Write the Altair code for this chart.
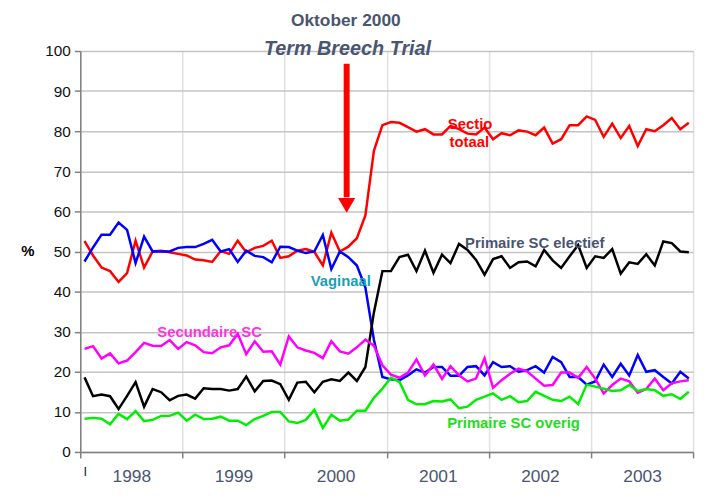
import altair as alt
import pandas as pd

years = ["1998", "1999", "2000", "2001", "2002", "2003"]
series_names = ["Sectio totaal", "Vaginaal", "Primaire SC electief", "Secundaire SC", "Primaire SC overig"]
series_colors = ["#ff0000", "#0000ff", "#000000", "#ff00ff", "#00ee00"]

sectio = [52.6, 49, 46, 45.1, 42.4, 44.6, 52.7, 46, 50, 50.2, 49.8, 49.4,
          49, 48, 47.8, 47.4, 50.1, 49.4, 52.7, 49.8, 50.9, 51.4, 52.7, 48.4,
          48.8, 50.2, 50.6, 49.9, 46.5, 54.7, 50, 51.2, 53.3, 59, 75.1, 81.5,
          82.3, 82.1, 81, 79.9, 80.5, 79.2, 79.2, 81.3, 80.5, 79.4, 79.2, 80.9,
          78, 79.5, 79, 80.2, 79.9, 79, 80.9, 76.9, 78, 81.5, 81.5, 83.7,
          82.8, 78.6, 81.9, 78.3, 81.3, 76.3, 80.5, 80, 81.5, 83.3, 80.5, 82.1]
vaginaal = [47.5, 51, 54.2, 54.2, 57.2, 55.4, 47.1, 53.7, 50, 50, 50, 50.9,
            51.1, 51.1, 51.9, 52.9, 50, 50.6, 47.4, 50.2, 48.9, 48.6, 47.3, 51.2,
            51.1, 50.2, 49.6, 50, 54.1, 45.6, 50, 48.6, 46.5, 41, 28, 18.7,
            18.1, 17.9, 19.1, 20.6, 19.8, 21.2, 21.2, 19, 19, 21.2, 21.4, 19.1,
            22.4, 21.2, 21.4, 20, 20.4, 21.4, 19.8, 23.7, 22.4, 18.7, 18.7, 16.8,
            17.6, 21.8, 18.7, 22, 19.1, 24.2, 20, 20.4, 18.7, 17.1, 20, 18.3]
electief = [18.6, 13.9, 14.3, 13.9, 10.7, 14.0, 17.4, 11.3, 15.7, 14.9, 12.9, 14.0,
            14.3, 13.3, 15.9, 15.7, 15.7, 15.3, 15.7, 18.8, 15.1, 17.7, 17.8, 16.9,
            13.0, 17.3, 17.5, 14.9, 17.5, 18.1, 17.7, 19.8, 17.7, 21.2, 34.8, 45.1,
            45.1, 48.6, 49.2, 45.1, 50.2, 44.7, 49.2, 47.1, 51.9, 50.4, 47.9, 44.2,
            48.1, 48.8, 45.9, 47.3, 47.5, 46.3, 50.4, 47.8, 45.9, 48.8, 51.6, 45.9,
            48.8, 48.4, 50.6, 44.5, 47.3, 46.9, 49.3, 46.5, 52.5, 52.1, 50, 49.8]
secundair = [25.7, 26.4, 23.3, 24.6, 22.1, 22.8, 24.9, 27.2, 26.5, 26.4, 27.9, 25.7,
             27.4, 26.6, 24.9, 24.6, 26.1, 26.6, 29.5, 24.4, 27.6, 25, 25.1, 21.8,
             28.8, 26.1, 25.3, 24.7, 23.4, 27.6, 25.1, 24.5, 26.1, 28, 26.5, 21.6,
             19.3, 18.5, 19.8, 23.1, 19.1, 21.8, 18.2, 21.4, 19.1, 17.6, 18.3, 23.4,
             16, 17.9, 19.5, 20.8, 20.1, 18.3, 16.5, 16.7, 19.8, 19.8, 18.5, 21.2,
             18.3, 14.6, 16.7, 18.3, 17.6, 14.8, 15.7, 18.3, 15.4, 17.1, 17.6, 17.9]
overig = [8.3, 8.5, 8.3, 6.9, 9.5, 8.2, 10.2, 7.7, 8.0, 9.0, 9.0, 9.8,
          7.8, 9.3, 8.2, 8.3, 8.8, 7.8, 7.8, 6.7, 8.2, 9.0, 10, 10,
          7.6, 7.2, 8, 10.5, 6.0, 9.3, 7.8, 8.1, 10.3, 10.3, 13.5, 15.8,
          18.5, 17.5, 13, 11.9, 11.9, 12.7, 12.6, 13.1, 10.9, 11.3, 13, 13.8,
          14.6, 13, 13.9, 12.4, 12.7, 15, 14, 13, 12.7, 13.8, 11.9, 16.8,
          16.3, 15.8, 15.2, 15.4, 16.7, 15.2, 15.7, 15.4, 14, 14.4, 13.2, 15]

# annotation labels (text, x in months, y in %)
ann_text = ["Sectio", "totaal", "Primaire SC electief", "Vaginaal", "Secundaire SC", "Primaire SC overig"]
ann_x = [45.8, 45.7, 53.4, 30.6, 15.2, 50.9]
ann_y = [81.7, 77.3, 52.1, 42.7, 29.9, 7.2]
ann_color = ["#ff0000", "#ff0000", "#4a5571", "#1aa0b4", "#ff33dd", "#22dd22"]

arrow_x = 31.3
arrow_top = 96.8
arrow_bottom = 63.5
arrow_head = 61.5

W, H = 619, 405

rows = []
for name, vals in zip(series_names, [sectio, vaginaal, electief, secundair, overig]):
    for i, v in enumerate(vals):
        rows.append({"serie": name, "m": i + 0.5, "v": v})
df = pd.DataFrame(rows)

xs = alt.Scale(domain=[0, 72], nice=False, zero=False)
ys = alt.Scale(domain=[0, 100], nice=False)

x_axis = alt.Axis(values=[0, 12, 24, 36, 48, 60, 72], title=None,
                  labelExpr="datum.value < 72 ? '' + (1998 + datum.value / 12) : ''",
                  labelOffset=51.6, labelPadding=10, labelFontSize=17.5,
                  labelFont="Liberation Sans", labelColor="#4a5571",
                  labelOverlap=False, labelFlush=False, labelBound=False,
                  grid=True, gridColor="#e0e0e0", gridWidth=1.5,
                  domainColor="#808080", domainWidth=1.5,
                  tickColor="#808080", tickWidth=1.5, tickSize=6)
y_axis = alt.Axis(values=list(range(0, 101, 10)), title=None,
                  labelFontSize=15.5, labelFont="Liberation Sans", labelColor="#111111",
                  labelPadding=4, grid=True, gridColor="#c4c4c4", gridWidth=1.5,
                  domainColor="#808080", domainWidth=1.5,
                  tickColor="#808080", tickWidth=1.5, tickSize=6)

lines = alt.Chart(df).mark_line(strokeWidth=2.5, clip=False).encode(
    x=alt.X("m:Q", scale=xs, axis=x_axis),
    y=alt.Y("v:Q", scale=ys, axis=y_axis),
    color=alt.Color("serie:N", scale=alt.Scale(domain=series_names, range=series_colors), legend=None),
    order=alt.Order("m:Q"),
)

ann_df = pd.DataFrame({"t": ann_text, "x": ann_x, "y": ann_y, "c": ann_color})
ann = alt.Chart(ann_df).mark_text(fontSize=15, fontWeight="bold", font="Liberation Sans",
                                  baseline="middle", align="center").encode(
    x=alt.X("x:Q", scale=xs), y=alt.Y("y:Q", scale=ys),
    text="t:N", color=alt.Color("c:N", scale=None),
)

title_df = pd.DataFrame({"t": ["Oktober 2000"], "x": [31.2], "y": [107.4]})
title1 = alt.Chart(title_df).mark_text(fontSize=17.5, fontWeight="bold", font="Liberation Sans",
                                       color="#4a5571", baseline="middle").encode(
    x=alt.X("x:Q", scale=xs), y=alt.Y("y:Q", scale=ys), text="t:N")
title2_df = pd.DataFrame({"t": ["Term Breech Trial"], "x": [31.4], "y": [100.5]})
title2 = alt.Chart(title2_df).mark_text(fontSize=20, fontWeight="bold", fontStyle="italic",
                                        font="Liberation Sans", color="#4a5571", baseline="middle").encode(
    x=alt.X("x:Q", scale=xs), y=alt.Y("y:Q", scale=ys), text="t:N")

arrow_df = pd.DataFrame({"x": [arrow_x], "y": [arrow_top], "y2": [arrow_bottom], "yh": [arrow_head]})
shaft = alt.Chart(arrow_df).mark_rule(color="#ff0000", strokeWidth=6).encode(
    x=alt.X("x:Q", scale=xs), y=alt.Y("y:Q", scale=ys), y2="y2:Q")
head = alt.Chart(arrow_df).mark_point(shape="triangle-down", filled=True, color="#ff0000",
                                      size=300, opacity=1).encode(
    x=alt.X("x:Q", scale=xs), y=alt.Y("yh:Q", scale=ys))

pct = alt.Chart(pd.DataFrame({"t": ["%"]})).mark_text(fontSize=15, fontWeight="bold", font="Liberation Sans",
                                                      color="#000000", align="center", baseline="middle").encode(
    x=alt.value(-53), y=alt.value(202), text="t:N")
stray = alt.Chart(pd.DataFrame({"t": ["I"], "x": [0.58]})).mark_text(fontSize=13, font="Liberation Sans",
                                                                    color="#222222", baseline="middle").encode(
    x=alt.X("x:Q", scale=xs), y=alt.value(H + 20), text="t:N")

border_l = alt.Chart(pd.DataFrame({"a": [0]})).mark_rule(color="#000000", strokeWidth=1.5).encode(
    x=alt.value(-77), y=alt.value(-46), y2=alt.value(H + 60))
border_t = alt.Chart(pd.DataFrame({"a": [0]})).mark_rule(color="#000000", strokeWidth=1.5).encode(
    x=alt.value(-77), x2=alt.value(W + 30), y=alt.value(-46))

chart = alt.layer(lines, ann, title1, title2, shaft, head, pct, stray, border_l, border_t).properties(
    width=W, height=H,
    autosize=alt.AutoSizeParams(type="none"),
    padding={"left": 73, "top": 41, "right": 7, "bottom": 38},
).configure_view(strokeWidth=0).configure(background="white")

chart.save("out.html", embed_options={"renderer": "svg", "actions": False})
